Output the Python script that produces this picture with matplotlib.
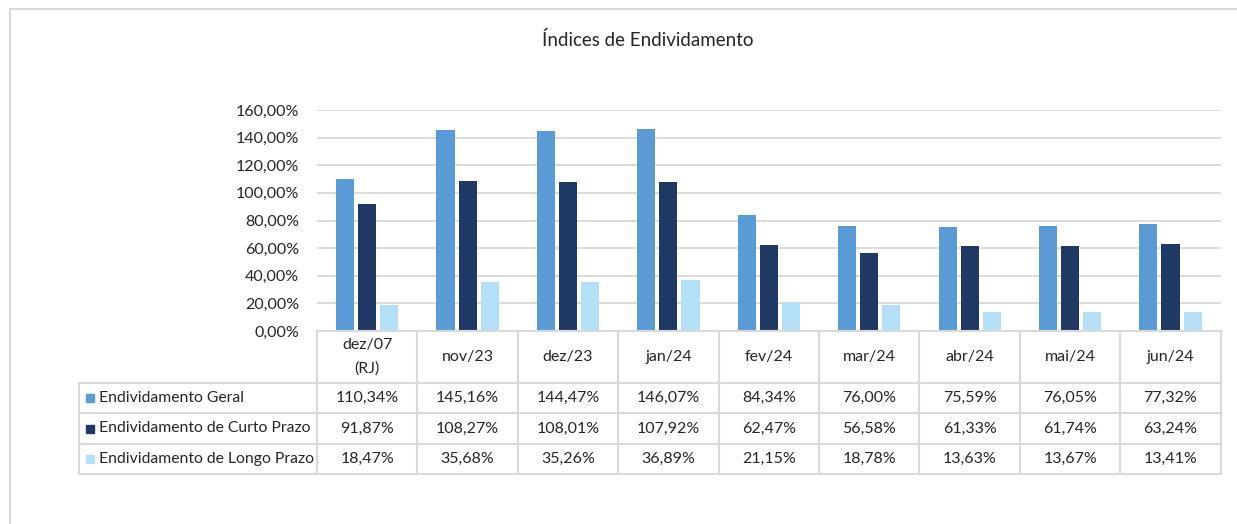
import numpy as np
import matplotlib.pyplot as plt
from matplotlib.lines import Line2D
from matplotlib.patches import Rectangle
from matplotlib.ticker import FuncFormatter

plt.rcParams['font.family'] = ['Lato', 'DejaVu Sans']

categorias = ['dez/07\n(RJ)', 'nov/23', 'dez/23', 'jan/24', 'fev/24',
              'mar/24', 'abr/24', 'mai/24', 'jun/24']
geral = [110.34, 145.16, 144.47, 146.07, 84.34, 76.00, 75.59, 76.05, 77.32]
curto = [91.87, 108.27, 108.01, 107.92, 62.47, 56.58, 61.33, 61.74, 63.24]
longo = [18.47, 35.68, 35.26, 36.89, 21.15, 18.78, 13.63, 13.67, 13.41]
series = ['Endividamento Geral', 'Endividamento de Curto Prazo',
          'Endividamento de Longo Prazo']
cores = ['#5B9BD5', '#203864', '#B4E0F7']

W, H = 1237, 524
fig = plt.figure(figsize=(W / 100, H / 100), dpi=100)


def fx(px):
    return px / W


def fy(py):
    return 1 - py / H


def pct(v):
    return f"{v:.2f}%".replace('.', ',')


grey = '#D9D9D9'
text_col = '#262626'

# moldura do grafico
fig.add_artist(Rectangle((fx(10), fy(600)), fx(1400), fy(9) - fy(600),
                         transform=fig.transFigure, fill=False,
                         edgecolor=grey, linewidth=1.5))

fig.text(fx(648), fy(40), 'Índices de Endividamento', ha='center',
         va='center', fontsize=13.5, color=text_col)

# area do grafico
left, right, top, bottom = 317, 1220.7, 110, 331
ax = fig.add_axes([fx(left), fy(bottom), fx(right) - fx(left), fy(top) - fy(bottom)])
x = np.arange(len(categorias))
offs = [-0.22, 0, 0.22]
for vals, off, c, nome in zip([geral, curto, longo], offs, cores, series):
    ax.bar(x + off, vals, width=0.18, color=c, label=nome, zorder=3)

ax.set_xlim(-0.5, len(categorias) - 0.5)
ax.set_ylim(0, 160)
ax.set_yticks(np.arange(0, 161, 20))
ax.yaxis.set_major_formatter(FuncFormatter(lambda v, p: pct(v)))
ax.tick_params(axis='y', length=0, pad=13, labelsize=11.5, labelcolor=text_col)
ax.set_xticks([])
ax.grid(axis='y', color=grey, linewidth=1.3, zorder=0)
for s in ax.spines.values():
    s.set_visible(False)

# tabela de dados
col_w = (right - left) / len(categorias)
row_y = [331, 383, 413, 444, 474]
tab_left = 79.5


def hline(x0, x1, y):
    fig.add_artist(Line2D([fx(x0), fx(x1)], [fy(y), fy(y)],
                          transform=fig.transFigure, color=grey, linewidth=1.5))


def vline(xp, y0, y1):
    fig.add_artist(Line2D([fx(xp), fx(xp)], [fy(y0), fy(y1)],
                          transform=fig.transFigure, color=grey, linewidth=1.5))


hline(left, right, row_y[0])
for yy in row_y[1:]:
    hline(tab_left, right, yy)
vline(tab_left, row_y[1], row_y[-1])
for i in range(len(categorias) + 1):
    vline(left + i * col_w, row_y[0], row_y[-1])

for i, cat in enumerate(categorias):
    cx = left + (i + 0.5) * col_w
    fig.text(fx(cx), fy((row_y[0] + row_y[1]) / 2), cat, ha='center',
             va='center', fontsize=11.5, color=text_col, linespacing=1.85)

for r, (nome, vals, c) in enumerate(zip(series, [geral, curto, longo], cores)):
    cy = (row_y[r + 1] + row_y[r + 2]) / 2
    fig.add_artist(Rectangle((fx(86), fy(cy + 4)), fx(8), fy(cy - 4) - fy(cy + 4),
                             transform=fig.transFigure, color=c))
    fig.text(fx(99), fy(cy), nome, ha='left', va='center', fontsize=11.3,
             color=text_col)
    for i, v in enumerate(vals):
        cx = left + (i + 0.5) * col_w
        fig.text(fx(cx), fy(cy), pct(v), ha='center', va='center',
                 fontsize=11.5, color=text_col)

fig.savefig('out.png', dpi=100, facecolor='white')
